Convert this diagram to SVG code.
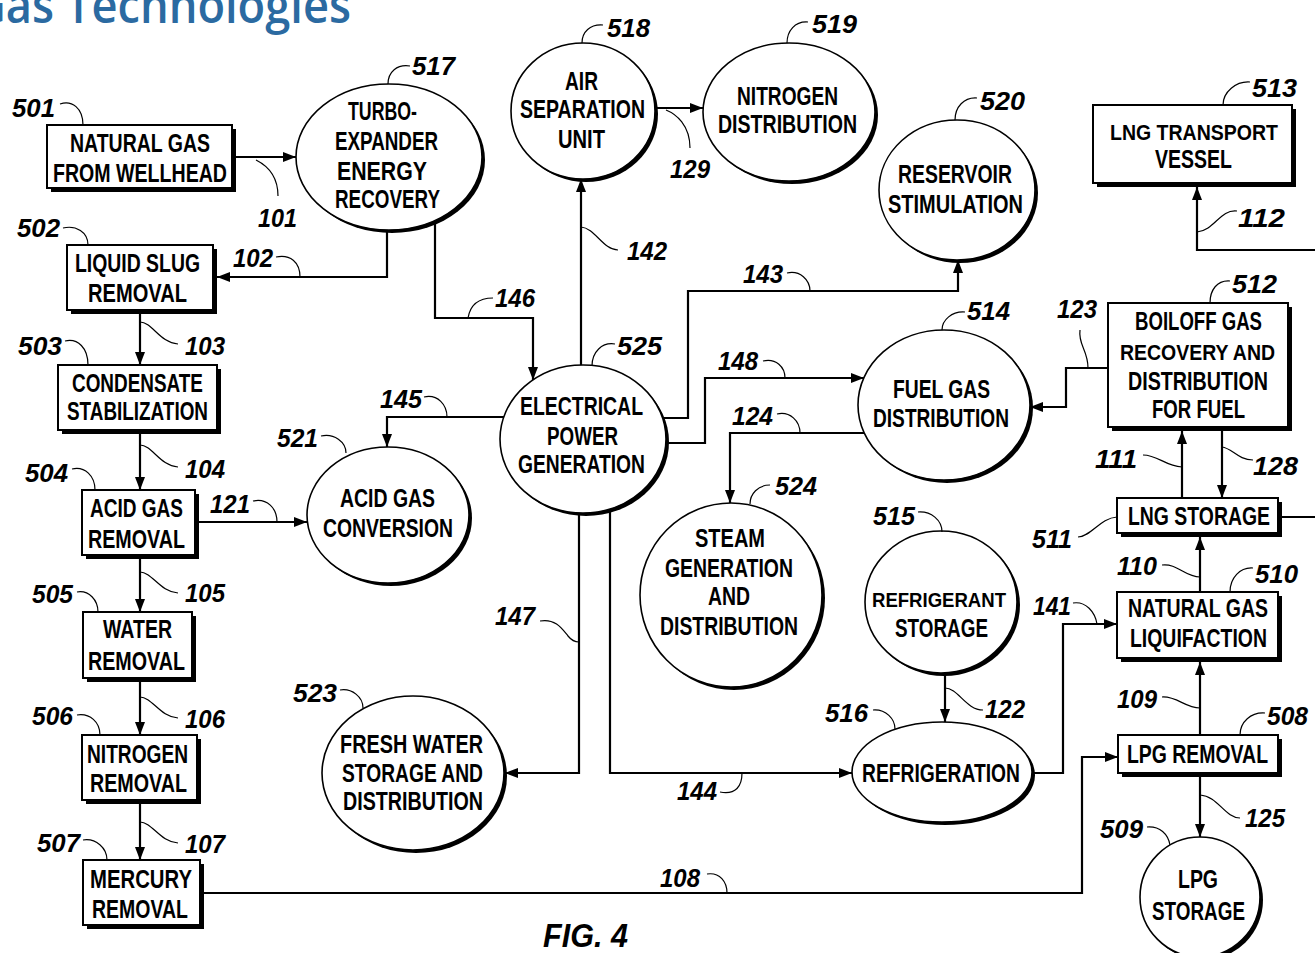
<svg xmlns="http://www.w3.org/2000/svg" width="1315" height="953" viewBox="0 0 1315 953">
<defs>
<style>
.bx{fill:#fff;stroke:#000;stroke-width:2}
.sh{fill:#000}
.el{fill:#fff;stroke:#000;stroke-width:1.6}
.t{font-family:"Liberation Sans",Arial,sans-serif;font-weight:bold;font-size:25px;fill:#000}
.n{font-family:"Liberation Sans",Arial,sans-serif;font-weight:bold;font-style:italic;font-size:26px;fill:#000}
.c{fill:none;stroke:#000;stroke-width:2.2}
.ca{fill:none;stroke:#000;stroke-width:2.2;marker-end:url(#ah)}
.ld{fill:none;stroke:#000;stroke-width:1.2}
.title{font-family:"Open Sans","DejaVu Sans",sans-serif;font-weight:600;font-size:48px;fill:#2b6aa1}
</style>
<marker id="ah" markerUnits="userSpaceOnUse" markerWidth="13" markerHeight="10" refX="13" refY="5" orient="auto">
<path d="M0,0 L13,5 L0,10 Z" fill="#000"/>
</marker>
</defs>
<rect width="1315" height="953" fill="#fff"/>
<text class="title" x="-27" y="23" textLength="378" lengthAdjust="spacingAndGlyphs">Gas Technologies</text>

<g id="connectors">
<path class="ca" d="M232,157 H296"/>
<path class="ca" d="M387,230 V277 H217"/>
<path class="ca" d="M140,310 V365"/>
<path class="ca" d="M140,430 V490"/>
<path class="ca" d="M140,555 V612"/>
<path class="ca" d="M140,678 V735"/>
<path class="ca" d="M140,800 V860"/>
<path class="ca" d="M200,893 H1082 V757 H1118"/>
<path class="ca" d="M195,522 H307"/>
<path class="ca" d="M504,417 H387 V447"/>
<path class="ca" d="M435,220 V318 H533 V380"/>
<path class="ca" d="M581,365 V179"/>
<path class="ca" d="M655,108 H703"/>
<path class="ca" d="M663,418 H688 V291 H958 V260"/>
<path class="ca" d="M662,443 H705 V378 H864"/>
<path class="ca" d="M864,433 H730 V503"/>
<path class="ca" d="M579,513 V773 H505"/>
<path class="ca" d="M610,509 V773 H852"/>
<path class="ca" d="M945,673 V722"/>
<path class="ca" d="M1032,773 H1063 V624 H1117"/>
<path class="ca" d="M1108,368 H1066 V407 H1030"/>
<path class="ca" d="M1182,498 V431"/>
<path class="ca" d="M1222,431 V498"/>
<path class="ca" d="M1200,592 V537"/>
<path class="ca" d="M1200,735 V662"/>
<path class="ca" d="M1200,777 V837"/>
<path class="c" d="M1282,517 H1320"/>
<path class="ca" d="M1320,250 H1197 V187"/>
<!-- connector reference leaders -->
<path class="ld" d="M256,160 C264,164 278,174 278,196"/>
<path class="ld" d="M276,257 C290,254 300,262 300,277"/>
<path class="ld" d="M140,322 C152,322 160,343 178,344"/>
<path class="ld" d="M140,445 C152,445 160,466 178,467"/>
<path class="ld" d="M140,572 C152,572 160,592 178,593"/>
<path class="ld" d="M140,697 C152,697 160,717 178,718"/>
<path class="ld" d="M140,822 C152,822 160,842 178,843"/>
<path class="ld" d="M707,874 C720,872 727,882 727,893"/>
<path class="ld" d="M253,501 C267,498 277,508 277,522"/>
<path class="ld" d="M424,397 C438,394 447,405 447,417"/>
<path class="ld" d="M468,318 C470,306 478,298 493,298"/>
<path class="ld" d="M581,227 C595,228 603,250 618,250"/>
<path class="ld" d="M666,110 C676,114 690,125 690,148"/>
<path class="ld" d="M787,273 C800,270 810,280 810,291"/>
<path class="ld" d="M763,361 C776,358 785,367 785,378"/>
<path class="ld" d="M777,414 C790,411 800,421 800,433"/>
<path class="ld" d="M540,621 C556,618 563,630 568,636 C572,641 576,642 579,642"/>
<path class="ld" d="M720,792 C736,795 742,786 742,773"/>
<path class="ld" d="M1080,330 C1078,345 1088,350 1088,368"/>
<path class="ld" d="M1143,455 C1158,455 1165,466 1182,467"/>
<path class="ld" d="M1253,460 C1238,460 1232,448 1222,447"/>
<path class="ld" d="M1237,211 C1220,209 1215,230 1197,232"/>
<path class="ld" d="M1162,565 C1177,563 1185,577 1200,577"/>
<path class="ld" d="M1073,603 C1086,601 1095,612 1097,624"/>
<path class="ld" d="M945,688 C958,688 966,710 983,710"/>
<path class="ld" d="M1162,697 C1177,696 1185,708 1200,708"/>
<path class="ld" d="M1240,818 C1225,818 1218,796 1200,795"/>
<!-- connector reference numbers -->
<text class="n" x="258" y="227" textLength="39" lengthAdjust="spacingAndGlyphs">101</text>
<text class="n" x="233" y="267" textLength="40" lengthAdjust="spacingAndGlyphs">102</text>
<text class="n" x="185" y="355" textLength="40" lengthAdjust="spacingAndGlyphs">103</text>
<text class="n" x="185" y="478" textLength="40" lengthAdjust="spacingAndGlyphs">104</text>
<text class="n" x="185" y="602" textLength="40" lengthAdjust="spacingAndGlyphs">105</text>
<text class="n" x="185" y="728" textLength="40" lengthAdjust="spacingAndGlyphs">106</text>
<text class="n" x="185" y="853" textLength="40" lengthAdjust="spacingAndGlyphs">107</text>
<text class="n" x="660" y="887" textLength="40" lengthAdjust="spacingAndGlyphs">108</text>
<text class="n" x="210" y="513" textLength="40" lengthAdjust="spacingAndGlyphs">121</text>
<text class="n" x="380" y="408" textLength="42" lengthAdjust="spacingAndGlyphs">145</text>
<text class="n" x="495" y="307" textLength="40" lengthAdjust="spacingAndGlyphs">146</text>
<text class="n" x="627" y="260" textLength="40" lengthAdjust="spacingAndGlyphs">142</text>
<text class="n" x="670" y="178" textLength="40" lengthAdjust="spacingAndGlyphs">129</text>
<text class="n" x="743" y="283" textLength="40" lengthAdjust="spacingAndGlyphs">143</text>
<text class="n" x="718" y="370" textLength="40" lengthAdjust="spacingAndGlyphs">148</text>
<text class="n" x="732" y="425" textLength="41" lengthAdjust="spacingAndGlyphs">124</text>
<text class="n" x="495" y="625" textLength="40" lengthAdjust="spacingAndGlyphs">147</text>
<text class="n" x="677" y="800" textLength="40" lengthAdjust="spacingAndGlyphs">144</text>
<text class="n" x="1057" y="318" textLength="40" lengthAdjust="spacingAndGlyphs">123</text>
<text class="n" x="1095" y="468" textLength="42" lengthAdjust="spacingAndGlyphs">111</text>
<text class="n" x="1253" y="475" textLength="45" lengthAdjust="spacingAndGlyphs">128</text>
<text class="n" x="1238" y="227" textLength="47" lengthAdjust="spacingAndGlyphs">112</text>
<text class="n" x="1117" y="575" textLength="40" lengthAdjust="spacingAndGlyphs">110</text>
<text class="n" x="1033" y="615" textLength="38" lengthAdjust="spacingAndGlyphs">141</text>
<text class="n" x="985" y="718" textLength="40" lengthAdjust="spacingAndGlyphs">122</text>
<text class="n" x="1117" y="708" textLength="40" lengthAdjust="spacingAndGlyphs">109</text>
<text class="n" x="1245" y="827" textLength="40" lengthAdjust="spacingAndGlyphs">125</text>
</g>

<g id="n501">
<rect class="sh" x="51" y="129" width="185" height="63"/>
<rect class="bx" x="47" y="125" width="185" height="63"/>
<text class="t" x="70" y="152" textLength="140" lengthAdjust="spacingAndGlyphs">NATURAL GAS</text>
<text class="t" x="53" y="182" textLength="174" lengthAdjust="spacingAndGlyphs">FROM WELLHEAD</text>
<path class="ld" d="M60,104 C72,100 83,108 83,125"/>
<text class="n" x="12" y="117" textLength="43" lengthAdjust="spacingAndGlyphs">501</text>
</g>

<g id="n502">
<rect class="sh" x="71" y="249" width="146" height="65"/>
<rect class="bx" x="67" y="245" width="146" height="65"/>
<text class="t" x="75" y="272" textLength="125" lengthAdjust="spacingAndGlyphs">LIQUID SLUG</text>
<text class="t" x="88" y="302" textLength="99" lengthAdjust="spacingAndGlyphs">REMOVAL</text>
<path class="ld" d="M63,228 C76,225 88,232 88,245"/>
<text class="n" x="17" y="237" textLength="43" lengthAdjust="spacingAndGlyphs">502</text>
</g>

<g id="n503">
<rect class="sh" x="62" y="369" width="159" height="65"/>
<rect class="bx" x="58" y="365" width="159" height="65"/>
<text class="t" x="72" y="392" textLength="131" lengthAdjust="spacingAndGlyphs">CONDENSATE</text>
<text class="t" x="67" y="420" textLength="141" lengthAdjust="spacingAndGlyphs">STABILIZATION</text>
<path class="ld" d="M65,341 C78,338 88,348 88,365"/>
<text class="n" x="18" y="355" textLength="44" lengthAdjust="spacingAndGlyphs">503</text>
</g>

<g id="n504">
<rect class="sh" x="86" y="494" width="113" height="65"/>
<rect class="bx" x="82" y="490" width="113" height="65"/>
<text class="t" x="90" y="517" textLength="93" lengthAdjust="spacingAndGlyphs">ACID GAS</text>
<text class="t" x="88" y="548" textLength="97" lengthAdjust="spacingAndGlyphs">REMOVAL</text>
<path class="ld" d="M72,469 C85,466 95,476 95,490"/>
<text class="n" x="25" y="482" textLength="43" lengthAdjust="spacingAndGlyphs">504</text>
</g>

<g id="n505">
<rect class="sh" x="87" y="616" width="109" height="66"/>
<rect class="bx" x="83" y="612" width="109" height="66"/>
<text class="t" x="103" y="638" textLength="69" lengthAdjust="spacingAndGlyphs">WATER</text>
<text class="t" x="88" y="670" textLength="97" lengthAdjust="spacingAndGlyphs">REMOVAL</text>
<path class="ld" d="M77,592 C89,590 98,600 98,612"/>
<text class="n" x="32" y="603" textLength="41" lengthAdjust="spacingAndGlyphs">505</text>
</g>

<g id="n506">
<rect class="sh" x="86" y="739" width="115" height="65"/>
<rect class="bx" x="82" y="735" width="115" height="65"/>
<text class="t" x="87" y="763" textLength="101" lengthAdjust="spacingAndGlyphs">NITROGEN</text>
<text class="t" x="90" y="792" textLength="97" lengthAdjust="spacingAndGlyphs">REMOVAL</text>
<path class="ld" d="M77,715 C90,713 100,722 100,735"/>
<text class="n" x="32" y="725" textLength="41" lengthAdjust="spacingAndGlyphs">506</text>
</g>

<g id="n507">
<rect class="sh" x="87" y="864" width="117" height="65"/>
<rect class="bx" x="83" y="860" width="117" height="65"/>
<text class="t" x="90" y="888" textLength="102" lengthAdjust="spacingAndGlyphs">MERCURY</text>
<text class="t" x="92" y="918" textLength="96" lengthAdjust="spacingAndGlyphs">REMOVAL</text>
<path class="ld" d="M83,840 C96,838 107,848 107,860"/>
<text class="n" x="37" y="852" textLength="43" lengthAdjust="spacingAndGlyphs">507</text>
</g>

<g id="n517">
<ellipse class="sh" cx="392" cy="160" rx="93" ry="73"/>
<ellipse class="el" cx="389" cy="157" rx="93" ry="73"/>
<text class="t" x="348" y="120" textLength="69" lengthAdjust="spacingAndGlyphs">TURBO-</text>
<text class="t" x="335" y="150" textLength="103" lengthAdjust="spacingAndGlyphs">EXPANDER</text>
<text class="t" x="337" y="180" textLength="90" lengthAdjust="spacingAndGlyphs">ENERGY</text>
<text class="t" x="335" y="208" textLength="105" lengthAdjust="spacingAndGlyphs">RECOVERY</text>
<path class="ld" d="M410,66 C397,64 388,72 388,84"/>
<text class="n" x="412" y="75" textLength="43" lengthAdjust="spacingAndGlyphs">517</text>
</g>

<g id="n518">
<ellipse class="sh" cx="586" cy="114" rx="72" ry="68"/>
<ellipse class="el" cx="583" cy="111" rx="72" ry="68"/>
<text class="t" x="565" y="90" textLength="33" lengthAdjust="spacingAndGlyphs">AIR</text>
<text class="t" x="520" y="118" textLength="125" lengthAdjust="spacingAndGlyphs">SEPARATION</text>
<text class="t" x="558" y="148" textLength="47" lengthAdjust="spacingAndGlyphs">UNIT</text>
<path class="ld" d="M603,25 C590,24 582,32 582,43"/>
<text class="n" x="607" y="37" textLength="43" lengthAdjust="spacingAndGlyphs">518</text>
</g>

<g id="n519">
<ellipse class="sh" cx="792" cy="115" rx="86" ry="69"/>
<ellipse class="el" cx="789" cy="112" rx="86" ry="69"/>
<text class="t" x="737" y="105" textLength="101" lengthAdjust="spacingAndGlyphs">NITROGEN</text>
<text class="t" x="718" y="133" textLength="139" lengthAdjust="spacingAndGlyphs">DISTRIBUTION</text>
<path class="ld" d="M808,22 C795,21 787,31 787,43"/>
<text class="n" x="812" y="33" textLength="45" lengthAdjust="spacingAndGlyphs">519</text>
</g>

<g id="n520">
<ellipse class="sh" cx="960" cy="193" rx="78" ry="70"/>
<ellipse class="el" cx="957" cy="190" rx="78" ry="70"/>
<text class="t" x="898" y="183" textLength="114" lengthAdjust="spacingAndGlyphs">RESERVOIR</text>
<text class="t" x="888" y="213" textLength="135" lengthAdjust="spacingAndGlyphs">STIMULATION</text>
<path class="ld" d="M977,98 C964,97 955,107 955,120"/>
<text class="n" x="980" y="110" textLength="45" lengthAdjust="spacingAndGlyphs">520</text>
</g>

<g id="n525">
<ellipse class="sh" cx="586" cy="442" rx="83" ry="74"/>
<ellipse class="el" cx="583" cy="439" rx="83" ry="74"/>
<text class="t" x="520" y="415" textLength="123" lengthAdjust="spacingAndGlyphs">ELECTRICAL</text>
<text class="t" x="547" y="445" textLength="71" lengthAdjust="spacingAndGlyphs">POWER</text>
<text class="t" x="518" y="473" textLength="127" lengthAdjust="spacingAndGlyphs">GENERATION</text>
<path class="ld" d="M615,344 C602,342 592,352 592,366"/>
<text class="n" x="617" y="355" textLength="45" lengthAdjust="spacingAndGlyphs">525</text>
</g>

<g id="n514">
<ellipse class="sh" cx="947" cy="408" rx="86" ry="75"/>
<ellipse class="el" cx="944" cy="405" rx="86" ry="75"/>
<text class="t" x="893" y="398" textLength="97" lengthAdjust="spacingAndGlyphs">FUEL GAS</text>
<text class="t" x="873" y="427" textLength="136" lengthAdjust="spacingAndGlyphs">DISTRIBUTION</text>
<path class="ld" d="M965,312 C952,311 942,320 942,330"/>
<text class="n" x="967" y="320" textLength="43" lengthAdjust="spacingAndGlyphs">514</text>
</g>

<g id="n521">
<ellipse class="sh" cx="391" cy="518" rx="81" ry="68"/>
<ellipse class="el" cx="388" cy="515" rx="81" ry="68"/>
<text class="t" x="340" y="507" textLength="95" lengthAdjust="spacingAndGlyphs">ACID GAS</text>
<text class="t" x="323" y="537" textLength="130" lengthAdjust="spacingAndGlyphs">CONVERSION</text>
<path class="ld" d="M321,436 C334,433 346,442 346,453"/>
<text class="n" x="277" y="447" textLength="41" lengthAdjust="spacingAndGlyphs">521</text>
</g>

<g id="n524">
<ellipse class="sh" cx="734" cy="598" rx="91" ry="92"/>
<ellipse class="el" cx="731" cy="595" rx="91" ry="92"/>
<text class="t" x="695" y="547" textLength="70" lengthAdjust="spacingAndGlyphs">STEAM</text>
<text class="t" x="665" y="577" textLength="128" lengthAdjust="spacingAndGlyphs">GENERATION</text>
<text class="t" x="708" y="605" textLength="42" lengthAdjust="spacingAndGlyphs">AND</text>
<text class="t" x="660" y="635" textLength="138" lengthAdjust="spacingAndGlyphs">DISTRIBUTION</text>
<path class="ld" d="M770,485 C758,485 750,494 750,504"/>
<text class="n" x="775" y="495" textLength="42" lengthAdjust="spacingAndGlyphs">524</text>
</g>

<g id="n523">
<ellipse class="sh" cx="416" cy="776" rx="91" ry="77"/>
<ellipse class="el" cx="413" cy="773" rx="91" ry="77"/>
<text class="t" x="340" y="753" textLength="143" lengthAdjust="spacingAndGlyphs">FRESH WATER</text>
<text class="t" x="342" y="782" textLength="141" lengthAdjust="spacingAndGlyphs">STORAGE AND</text>
<text class="t" x="343" y="810" textLength="140" lengthAdjust="spacingAndGlyphs">DISTRIBUTION</text>
<path class="ld" d="M340,690 C352,688 363,697 363,708"/>
<text class="n" x="293" y="702" textLength="44" lengthAdjust="spacingAndGlyphs">523</text>
</g>

<g id="n515">
<ellipse class="sh" cx="944" cy="605" rx="76" ry="71"/>
<ellipse class="el" cx="941" cy="602" rx="76" ry="71"/>
<text class="t" x="872" y="607" style="font-size:21px" textLength="134" lengthAdjust="spacingAndGlyphs">REFRIGERANT</text>
<text class="t" x="895" y="637" textLength="93" lengthAdjust="spacingAndGlyphs">STORAGE</text>
<path class="ld" d="M918,512 C931,511 942,520 942,532"/>
<text class="n" x="873" y="525" textLength="42" lengthAdjust="spacingAndGlyphs">515</text>
</g>

<g id="n516">
<ellipse class="sh" cx="945" cy="775" rx="90" ry="50"/>
<ellipse class="el" cx="942" cy="772" rx="90" ry="50"/>
<text class="t" x="862" y="782" textLength="158" lengthAdjust="spacingAndGlyphs">REFRIGERATION</text>
<path class="ld" d="M873,710 C886,709 895,719 895,729"/>
<text class="n" x="825" y="722" textLength="43" lengthAdjust="spacingAndGlyphs">516</text>
</g>

<g id="n513">
<rect class="sh" x="1097" y="109" width="199" height="78"/>
<rect class="bx" x="1093" y="105" width="199" height="78"/>
<text class="t" x="1110" y="140" style="font-size:22.5px" textLength="168" lengthAdjust="spacingAndGlyphs">LNG TRANSPORT</text>
<text class="t" x="1155" y="168" textLength="77" lengthAdjust="spacingAndGlyphs">VESSEL</text>
<path class="ld" d="M1250,82 C1236,81 1223,92 1223,105"/>
<text class="n" x="1252" y="97" textLength="45" lengthAdjust="spacingAndGlyphs">513</text>
</g>

<g id="n512">
<rect class="sh" x="1112" y="307" width="180" height="124"/>
<rect class="bx" x="1108" y="303" width="180" height="124"/>
<text class="t" x="1135" y="330" textLength="127" lengthAdjust="spacingAndGlyphs">BOILOFF GAS</text>
<text class="t" x="1120" y="360" style="font-size:22.5px" textLength="155" lengthAdjust="spacingAndGlyphs">RECOVERY AND</text>
<text class="t" x="1128" y="390" textLength="140" lengthAdjust="spacingAndGlyphs">DISTRIBUTION</text>
<text class="t" x="1152" y="418" textLength="93" lengthAdjust="spacingAndGlyphs">FOR FUEL</text>
<path class="ld" d="M1230,281 C1217,280 1210,290 1210,303"/>
<text class="n" x="1232" y="293" textLength="45" lengthAdjust="spacingAndGlyphs">512</text>
</g>

<g id="n511">
<rect class="sh" x="1121" y="502" width="161" height="35"/>
<rect class="bx" x="1117" y="498" width="161" height="35"/>
<text class="t" x="1128" y="525" textLength="142" lengthAdjust="spacingAndGlyphs">LNG STORAGE</text>
<path class="ld" d="M1078,537 C1092,536 1100,518 1117,517"/>
<text class="n" x="1032" y="548" textLength="40" lengthAdjust="spacingAndGlyphs">511</text>
</g>

<g id="n510">
<rect class="sh" x="1121" y="596" width="161" height="66"/>
<rect class="bx" x="1117" y="592" width="161" height="66"/>
<text class="t" x="1128" y="617" textLength="140" lengthAdjust="spacingAndGlyphs">NATURAL GAS</text>
<text class="t" x="1130" y="647" textLength="137" lengthAdjust="spacingAndGlyphs">LIQUIFACTION</text>
<path class="ld" d="M1253,568 C1240,567 1230,578 1230,592"/>
<text class="n" x="1255" y="583" textLength="43" lengthAdjust="spacingAndGlyphs">510</text>
</g>

<g id="n508">
<rect class="sh" x="1122" y="739" width="160" height="38"/>
<rect class="bx" x="1118" y="735" width="160" height="38"/>
<text class="t" x="1127" y="763" textLength="141" lengthAdjust="spacingAndGlyphs">LPG REMOVAL</text>
<path class="ld" d="M1265,713 C1251,712 1240,722 1240,735"/>
<text class="n" x="1267" y="725" textLength="41" lengthAdjust="spacingAndGlyphs">508</text>
</g>

<g id="n509">
<ellipse class="sh" cx="1203" cy="900" rx="60" ry="60"/>
<ellipse class="el" cx="1200" cy="897" rx="60" ry="60"/>
<text class="t" x="1178" y="888" textLength="40" lengthAdjust="spacingAndGlyphs">LPG</text>
<text class="t" x="1152" y="920" textLength="93" lengthAdjust="spacingAndGlyphs">STORAGE</text>
<path class="ld" d="M1147,827 C1160,826 1168,834 1170,845"/>
<text class="n" x="1100" y="838" textLength="43" lengthAdjust="spacingAndGlyphs">509</text>
</g>

<text class="n" x="543" y="947" style="font-size:34px" textLength="85" lengthAdjust="spacingAndGlyphs">FIG. 4</text>
</svg>
